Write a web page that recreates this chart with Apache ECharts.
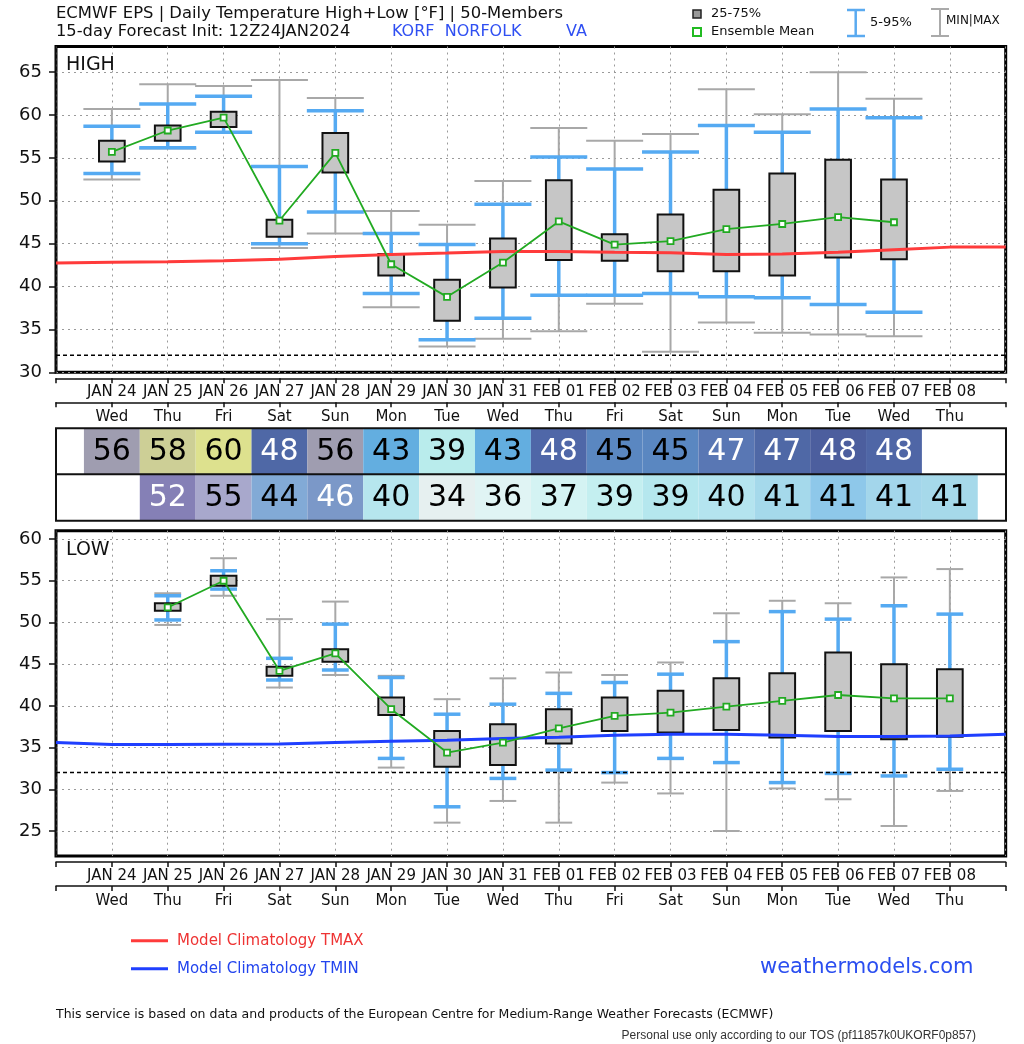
<!DOCTYPE html>
<html><head><meta charset="utf-8">
<script src="https://cdn.jsdelivr.net/npm/echarts/dist/echarts.min.js"></script>
<style>html,body{margin:0;padding:0;background:#fff}#chart{width:1024px;height:1044px}</style>
</head><body><div id="chart"></div>
<script>
// ---------------- data ----------------
const dates = ['JAN 24','JAN 25','JAN 26','JAN 27','JAN 28','JAN 29','JAN 30','JAN 31','FEB 01','FEB 02','FEB 03','FEB 04','FEB 05','FEB 06','FEB 07','FEB 08'];
const days  = ['Wed','Thu','Fri','Sat','Sun','Mon','Tue','Wed','Thu','Fri','Sat','Sun','Mon','Tue','Wed','Thu'];

// HIGH temperature ensemble statistics (°F)
const hiMin  = [52.5, 56.1, 57.9, 44.5, 46.2, 37.6, 33.0, 33.9, 34.8, 38.0, 32.4, 35.8, 34.6, 34.4, 34.2, null];
const hiP5   = [53.2, 56.2, 58.0, 45.0, 48.7, 39.2, 33.8, 36.3, 39.0, 39.0, 39.2, 38.8, 38.7, 37.9, 37.0, null];
const hiQ1   = [54.6, 57.0, 58.6, 45.8, 53.3, 41.3, 36.0, 39.9, 43.1, 43.0, 41.8, 41.8, 41.3, 43.4, 43.2, null];
const hiMean = [55.7, 58.2, 59.7, 47.7, 55.6, 42.6, 38.8, 42.8, 47.6, 44.9, 45.3, 46.7, 47.3, 48.1, 47.5, null];
const hiQ3   = [57.0, 58.8, 60.4, 47.8, 57.9, 43.8, 40.8, 45.6, 52.4, 46.1, 48.4, 51.3, 53.2, 54.8, 52.5, null];
const hiP95  = [58.7, 61.3, 62.2, 54.0, 60.5, 46.2, 44.9, 49.6, 55.1, 53.7, 55.7, 58.8, 58.0, 60.7, 59.7, null];
const hiMax  = [60.7, 63.6, 63.4, 64.1, 62.0, 48.8, 47.2, 52.3, 58.5, 57.0, 57.8, 63.0, 60.1, 65.0, 61.9, null];

// LOW temperature ensemble statistics (°F)
const loMin  = [null, 49.7, 53.2, 42.2, 43.7, 32.6, 26.0, 28.6, 26.0, 30.8, 29.5, 25.0, 30.1, 28.8, 25.6, 29.8];
const loP5   = [null, 50.3, 54.0, 43.1, 44.3, 33.7, 27.9, 31.3, 32.3, 32.0, 33.7, 33.2, 30.8, 31.9, 31.6, 32.4];
const loQ1   = [null, 51.4, 54.4, 43.6, 45.3, 38.9, 32.7, 32.9, 35.5, 37.0, 36.8, 37.1, 36.2, 37.0, 36.0, 36.3];
const loMean = [null, 51.8, 55.0, 44.2, 46.3, 39.6, 34.4, 35.6, 37.3, 38.8, 39.2, 39.9, 40.6, 41.3, 40.9, 40.9];
const loQ3   = [null, 52.3, 55.6, 44.7, 46.8, 41.0, 37.0, 37.8, 39.6, 41.0, 41.8, 43.3, 43.9, 46.4, 45.0, 44.4];
const loP95  = [null, 53.2, 56.2, 45.7, 49.8, 43.4, 39.0, 40.2, 41.5, 42.8, 43.8, 47.7, 51.3, 50.4, 52.0, 51.0];
const loMax  = [null, 53.5, 57.7, 50.4, 52.5, 43.6, 40.8, 43.3, 44.0, 43.7, 45.2, 51.1, 52.6, 52.3, 55.4, 56.4];

// model climatology, positions -1 .. 16
const climX = [-1,0,1,2,3,4,5,6,7,8,9,10,11,12,13,14,15,16];
const tmax  = [42.75,42.83,42.9,43.0,43.2,43.5,43.75,43.92,44.1,44.1,44.0,43.95,43.75,43.8,44.0,44.3,44.6,44.6];
const tmin  = [35.6,35.36,35.36,35.4,35.44,35.6,35.76,35.88,36.08,36.24,36.48,36.6,36.6,36.48,36.32,36.32,36.4,36.6];
const freezing = 32;

// table of rounded means
const hiTable = [56,58,60,48,56,43,39,43,48,45,45,47,47,48,48,null];
const loTable = [null,52,55,44,46,40,34,36,37,39,39,40,41,41,41,41];
const hiFill = ['#9f9db0','#cdcf96','#dde18e','#4f68a6','#9f9db0','#63aee0','#b9ecec','#63aee0','#4f67a8','#5a87c1','#5a87c1','#5977b4','#4f68a6','#4c5e9e','#4f66a6',null];
const hiInk  = ['#000','#000','#000','#fff','#000','#000','#000','#000','#fff','#000','#000','#fff','#fff','#fff','#fff',null];
const loFill = [null,'#8580b6','#a8a8cc','#82aad6','#7b98c8','#b6e6ee','#e6f0f0','#e0f4f4','#d4f3f3','#c4eff0','#b5e7ee','#b4e4ef','#a5d9eb','#8ec8ea','#a3d6eb','#a6d9ea'];
const loInk  = [null,'#fff','#000','#000','#fff','#000','#000','#000','#000','#000','#000','#000','#000','#000','#000','#000'];

const hiTicks = [30,35,40,45,50,55,60,65];
const loTicks = [25,30,35,40,45,50,55,60];

// ---------------- build ----------------
const FONT = '"DejaVu Sans", sans-serif';
function stats(mn,p5,q1,mean,q3,p95,mx){
  const out=[];
  for(let i=0;i<mean.length;i++){ if(mean[i]!=null) out.push([i,mn[i],p5[i],q1[i],mean[i],q3[i],p95[i],mx[i]]); }
  return out;
}
const hiData = stats(hiMin,hiP5,hiQ1,hiMean,hiQ3,hiP95,hiMax);
const loData = stats(loMin,loP5,loQ1,loMean,loQ3,loP95,loMax);
const pairs = (xs,ys)=>xs.map((x,i)=>[x,ys[i]]);
const meanPairs = arr => arr.map((v,i)=>[i,v]).filter(p=>p[1]!=null);

function whisker(lo,hi,color,width,capUnits){
  return function(params,api){
    const x=api.value(0);
    const a=api.coord([x,api.value(lo)]), b=api.coord([x,api.value(hi)]);
    const h=api.size([capUnits,0])[0];
    const st={stroke:color,lineWidth:width};
    return {type:'group',children:[
      {type:'line',shape:{x1:a[0],y1:a[1],x2:b[0],y2:b[1]},style:st},
      {type:'line',shape:{x1:a[0]-h,y1:a[1],x2:a[0]+h,y2:a[1]},style:st},
      {type:'line',shape:{x1:b[0]-h,y1:b[1],x2:b[0]+h,y2:b[1]},style:st}
    ]};
  };
}
function box(params,api){
  const x=api.value(0);
  const a=api.coord([x-0.23,api.value(5)]), b=api.coord([x+0.23,api.value(3)]);
  return {type:'rect',shape:{x:a[0],y:a[1],width:b[0]-a[0],height:b[1]-a[1]},
    style:{fill:'#c6c6c6',stroke:'#111',lineWidth:2}};
}
function panelSeries(data,xi,yi,capUnits,clim,climColor,mean){
  return [
    {type:'custom',xAxisIndex:xi,yAxisIndex:yi,data:data,renderItem:whisker(1,7,'#a8a8a8',2,capUnits),encode:{x:0,y:[1,7]},z:2},
    {type:'custom',xAxisIndex:xi,yAxisIndex:yi,data:data,renderItem:whisker(2,6,'#55aaf2',3.5,capUnits),encode:{x:0,y:[2,6]},z:3},
    {type:'custom',xAxisIndex:xi,yAxisIndex:yi,data:data,renderItem:box,encode:{x:0,y:[3,5]},z:4},
    {type:'line',xAxisIndex:xi,yAxisIndex:yi,data:pairs(climX,clim),symbol:'none',lineStyle:{color:climColor,width:3},z:5},
    {type:'line',xAxisIndex:xi,yAxisIndex:yi,data:[[climX[0],freezing],[climX[climX.length-1],freezing]],symbol:'none',lineStyle:{color:'#000',width:1.5,type:[4,3]},z:5},
    {type:'line',xAxisIndex:xi,yAxisIndex:yi,data:meanPairs(mean),symbol:'rect',symbolSize:6,showAllSymbol:true,
      itemStyle:{color:'#fff',borderColor:'#22aa22',borderWidth:1.8},lineStyle:{color:'#22aa22',width:1.8},z:6}
  ];
}
function tableItem(params,api){
  const x=api.value(0), row=api.value(1);
  const a=api.coord([x-0.5,row+1]), b=api.coord([x+0.5,row]);
  const i=params.dataIndex;
  const it=tableData[i];
  return {type:'group',children:[
    {type:'rect',shape:{x:a[0],y:a[1],width:b[0]-a[0],height:b[1]-a[1]},style:{fill:it[3],lineWidth:0}},
    {type:'text',x:(a[0]+b[0])/2,y:(a[1]+b[1])/2+1,style:{text:String(it[2]),fill:it[4],font:'30px '+FONT,
      align:'center',verticalAlign:'middle',textAlign:'center',textVerticalAlign:'middle'}}
  ]};
}
const tableData=[];
for(let i=0;i<16;i++){
  if(hiTable[i]!=null) tableData.push([i,1,hiTable[i],hiFill[i],hiInk[i]]);
  if(loTable[i]!=null) tableData.push([i,0,loTable[i],loFill[i],loInk[i]]);
}

function xAxes(grid,withSplit){
  const common={gridIndex:grid,type:'value',min:-1,max:16,interval:1,position:'bottom',
    axisLine:{show:true,onZero:false,lineStyle:{color:'#111',width:1.5}},
    axisTick:{show:true,length:5,lineStyle:{color:'#111',width:1.5}}};
  return [
    Object.assign({},common,{offset:6,
      axisLabel:{margin:6,fontSize:15,lineHeight:16,color:'#111',fontFamily:FONT,formatter:v=>(v>=0&&v<16?dates[v]:'')},
      splitLine:{show:withSplit,lineStyle:{color:'#9a9a9a',width:1,type:[2,4]}}}),
    Object.assign({},common,{offset:30,
      axisLabel:{margin:7,fontSize:15,lineHeight:16,color:'#111',fontFamily:FONT,formatter:v=>(v>=0&&v<16?days[v]:'')},
      splitLine:{show:false}})
  ];
}
function yAxis(grid,min,max,ticks){
  return {gridIndex:grid,type:'value',min:min,max:max,position:'left',
    axisLine:{show:true,onZero:false,lineStyle:{color:'#111',width:1.5}},
    axisTick:{show:true,length:7,customValues:ticks,lineStyle:{color:'#111',width:1.5}},
    axisLabel:{margin:14,fontSize:18,color:'#111',fontFamily:FONT,customValues:ticks},
    splitLine:{show:true,lineStyle:{color:'#9a9a9a',width:1,type:[2,4]}}};
}

function txt(x,y,text,size,color,extra,family){
  return Object.assign({type:'text',x:x,y:y,z:100,style:{text:text,fill:color,font:size+'px '+(family||FONT),
    align:'left',verticalAlign:'middle',textAlign:'left',textVerticalAlign:'middle'}},extra||{});
}
function seg(x1,y1,x2,y2,color,w){
  return {type:'line',z:100,shape:{x1:x1,y1:y1,x2:x2,y2:y2},style:{stroke:color,lineWidth:w}};
}

const graphics=[
  txt(56,13.5,'ECMWF EPS | Daily Temperature High+Low [°F] | 50-Members',16.4,'#111'),
  txt(56,32,'15-day Forecast Init: 12Z24JAN2024',16.3,'#111'),
  txt(392,32,'KORF  NORFOLK',16,'#2f4ff2'),
  txt(566,32,'VA',16,'#2f4ff2'),
  {type:'rect',z:100,shape:{x:693,y:10,width:8,height:8},style:{fill:'#999',stroke:'#222',lineWidth:1.5}},
  txt(711,14,'25-75%',13,'#111'),
  {type:'rect',z:100,shape:{x:693,y:28,width:8,height:8},style:{fill:'#fff',stroke:'#22bb22',lineWidth:2}},
  txt(711,32,'Ensemble Mean',13,'#111'),
  seg(855.7,10,855.7,36,'#5aaaf0',2.5), seg(847,10,865,10,'#5aaaf0',2.5), seg(847,36,865,36,'#5aaaf0',2.5),
  txt(870,23,'5-95%',13,'#111'),
  seg(940,9,940,36,'#aaaaaa',2), seg(931,9,949,9,'#aaaaaa',2), seg(931,36,949,36,'#aaaaaa',2),
  txt(946,21,'MIN|MAX',12,'#111'),
  txt(66,65.5,'HIGH',19,'#111'),
  txt(66,550,'LOW',19,'#111'),
  {type:'rect',z:100,shape:{x:56,y:428.3,width:950,height:92.4},style:{fill:'none',stroke:'#111',lineWidth:2}},
  seg(56,474.3,1006,474.3,'#111',2),
  seg(131,940.7,168,940.7,'#ff3b3b',3),
  txt(177,940.7,'Model Climatology TMAX',15,'#ee3333'),
  seg(131,968.7,168,968.7,'#1f3fff',3),
  txt(177,968.7,'Model Climatology TMIN',15,'#2244ee'),
  txt(760,968,'weathermodels.com',21,'#2a4ef0'),
  txt(56,1015,'This service is based on data and products of the European Centre for Medium-Range Weather Forecasts (ECMWF)',12.5,'#111'),
  {type:'text',x:976,y:1035.5,z:100,style:{text:'Personal use only according to our TOS (pf11857k0UKORF0p857)',fill:'#333',
    font:'12px "Liberation Sans", sans-serif',align:'right',verticalAlign:'middle',textAlign:'right',textVerticalAlign:'middle'}}
];

const option={
  animation:false,
  backgroundColor:'#fff',
  grid:[
    {left:56,right:18.3,top:46.5,height:325.8,show:true,borderColor:'#000',borderWidth:3,backgroundColor:'transparent'},
    {left:56,right:18.3,top:530.7,height:325.3,show:true,borderColor:'#000',borderWidth:3,backgroundColor:'transparent'},
    {left:56,right:18.3,top:428.3,height:92.4,show:false}
  ],
  xAxis:[].concat(xAxes(0,true),xAxes(1,true),[{gridIndex:2,type:'value',min:-1,max:16,show:false}]),
  yAxis:[yAxis(0,30,68,hiTicks),yAxis(1,22,61,loTicks),{gridIndex:2,type:'value',min:0,max:2,show:false}],
  graphic:graphics,
  series:[].concat(
    panelSeries(hiData,0,0,0.51,tmax,'#ff3b3b',hiMean),
    panelSeries(loData,2,1,0.24,tmin,'#1f3fff',loMean),
    [{type:'custom',xAxisIndex:4,yAxisIndex:2,data:tableData,renderItem:tableItem,encode:{x:0,y:1},z:2}]
  )
};
const chart=echarts.init(document.getElementById('chart'),null,{renderer:'canvas'});
chart.setOption(option);
</script></body></html>
